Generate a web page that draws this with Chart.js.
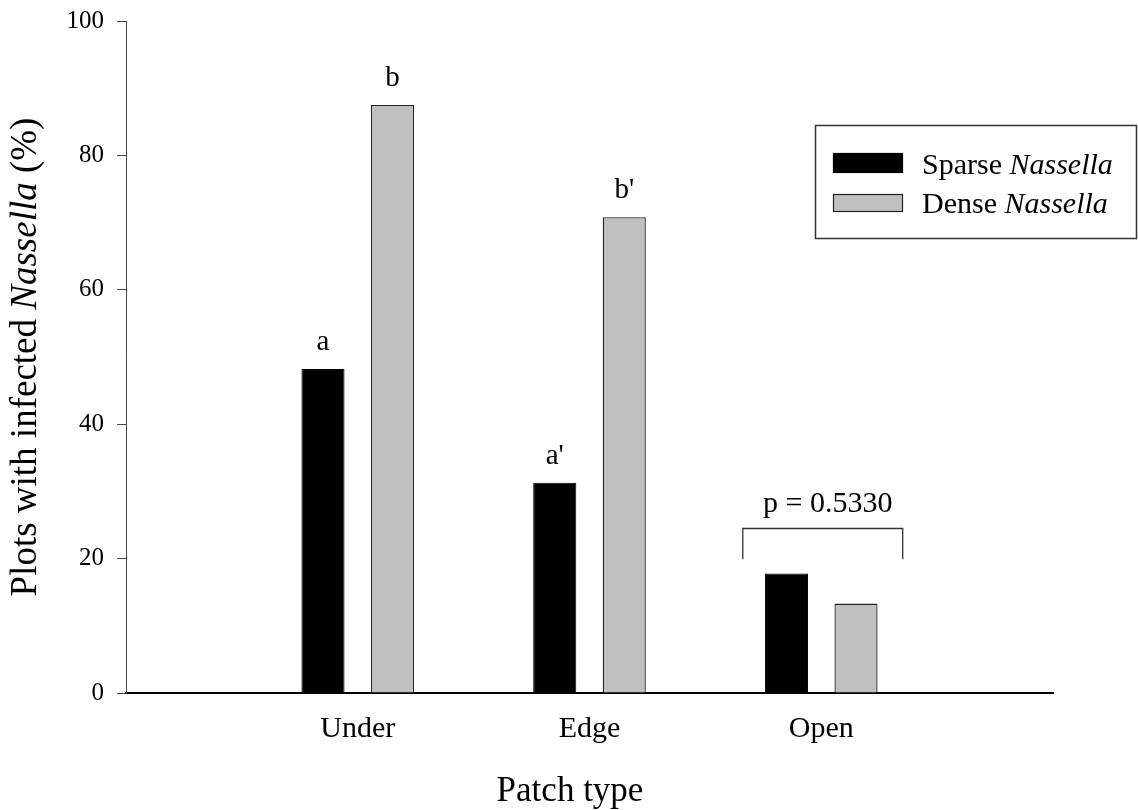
<!DOCTYPE html>
<html>
<head>
<meta charset="utf-8">
<script src="https://cdn.jsdelivr.net/npm/chart.js@4/dist/chart.umd.min.js"></script>
<style>
  html, body { margin: 0; padding: 0; background: #fff; }
  #c { display: block; }
</style>
</head>
<body>
<canvas id="c" width="1138" height="810"></canvas>
<script>
// Percentage of plots with infected Nassella, by patch type
const patchTypes = ['Under', 'Edge', 'Open'];
const sparseNassella = [48.2, 31.3, 17.8];
const denseNassella = [87.5, 70.8, 13.3];
const sparseLetters = ['a', "a'", ''];
const denseLetters = ['b', "b'", ''];
const yTicks = [0, 20, 40, 60, 80, 100];
const openPValue = 'p = 0.5330';

const SERIF = '"Liberation Serif", "Times New Roman", serif';

// Blank slots on either side give the empty margins left and right of the groups
const labels = ['', ...patchTypes, ''];
const pad = arr => [null, ...arr, null];

// Draws text runs (normal / italic) one after another from (x, y)
function drawRuns(ctx, runs, x, y, size, align) {
  const widths = runs.map(r => {
    ctx.font = (r.italic ? 'italic ' : '') + size + 'px ' + SERIF;
    return ctx.measureText(r.text).width;
  });
  const total = widths.reduce((a, b) => a + b, 0);
  let cx = align === 'center' ? x - total / 2 : x;
  runs.forEach((r, i) => {
    ctx.font = (r.italic ? 'italic ' : '') + size + 'px ' + SERIF;
    ctx.textAlign = 'left';
    ctx.fillText(r.text, cx, y);
    cx += widths[i];
  });
}

const decorations = {
  id: 'decorations',
  afterDatasetsDraw(chart) {
    const ctx = chart.ctx;
    const xs = chart.scales.x;
    const ys = chart.scales.y;
    ctx.save();
    ctx.fillStyle = '#000';
    ctx.textBaseline = 'alphabetic';
    ctx.textAlign = 'center';
    ctx.font = '29px ' + SERIF;

    // Significance letters above bars
    [sparseLetters, denseLetters].forEach((letters, di) => {
      const meta = chart.getDatasetMeta(di);
      letters.forEach((t, j) => {
        if (!t) return;
        const el = meta.data[j + 1];
        ctx.fillText(t, el.x, el.y - 19);
      });
    });

    // Bracket with p-value over the Open group
    const openIdx = labels.indexOf('Open');
    const step = xs.getPixelForValue(1) - xs.getPixelForValue(0);
    const cx = xs.getPixelForValue(openIdx) + 1.5;
    const half = 0.345 * step;
    const yTop = Math.round(ys.getPixelForValue(24.6)) + 0.5;
    const yLeg = ys.getPixelForValue(19.9);
    ctx.strokeStyle = '#333';
    ctx.lineWidth = 1.3;
    ctx.beginPath();
    ctx.moveTo(cx - half, yLeg);
    ctx.lineTo(cx - half, yTop);
    ctx.lineTo(cx + half, yTop);
    ctx.lineTo(cx + half, yLeg);
    ctx.stroke();
    ctx.font = '30px ' + SERIF;
    ctx.fillText(openPValue, cx + 5, yTop - 17);
    ctx.restore();
  },
  afterDraw(chart) {
    const ctx = chart.ctx;
    ctx.save();
    ctx.fillStyle = '#000';
    ctx.textBaseline = 'alphabetic';

    // X axis title
    drawRuns(ctx, [{ text: 'Patch type' }], 570, 801, 35, 'center');

    // Y axis title, rotated
    ctx.translate(36, 357);
    ctx.rotate(-Math.PI / 2);
    drawRuns(ctx, [
      { text: 'Plots with infected ' },
      { text: 'Nassella', italic: true },
      { text: ' (%)' }
    ], 0, 0, 37, 'center');
    ctx.setTransform(1, 0, 0, 1, 0, 0);

    // Legend box
    ctx.strokeStyle = '#333';
    ctx.lineWidth = 1.5;
    ctx.strokeRect(815.5, 125.5, 321, 113);
    const ds = chart.data.datasets;
    const rows = [
      { y: 153, h: 20, base: 174, ds: ds[0] },
      { y: 194, h: 18, base: 213, ds: ds[1] }
    ];
    rows.forEach(r => {
      ctx.fillStyle = r.ds.backgroundColor;
      ctx.fillRect(833, r.y, 70, r.h);
      ctx.strokeStyle = r.ds.borderColor;
      ctx.lineWidth = 1.2;
      ctx.strokeRect(833.5, r.y + 0.5, 69, r.h - 1);
      ctx.fillStyle = '#000';
      const [word, genus] = r.ds.label.split(' ');
      drawRuns(ctx, [
        { text: word + ' ' },
        { text: genus, italic: true }
      ], 922, r.base, 30, 'left');
    });
    ctx.restore();
  }
};

new Chart(document.getElementById('c'), {
  type: 'bar',
  data: {
    labels: labels,
    datasets: [
      {
        label: 'Sparse Nassella',
        data: pad(sparseNassella),
        backgroundColor: '#000000',
        borderColor: '#000000',
        borderWidth: 1
      },
      {
        label: 'Dense Nassella',
        data: pad(denseNassella),
        backgroundColor: '#c0c0c0',
        borderColor: '#222222',
        borderWidth: 1.3
      }
    ]
  },
  options: {
    responsive: false,
    devicePixelRatio: 1,
    animation: false,
    categoryPercentage: 0.6,
    barPercentage: 0.62,
    layout: { padding: { top: 21, right: 85, left: 0, bottom: 0 } },
    plugins: {
      legend: { display: false },
      tooltip: { enabled: false },
      title: { display: false }
    },
    scales: {
      x: {
        offset: false,
        grid: { display: false, drawTicks: false },
        border: { display: true, color: '#000', width: 2 },
        ticks: {
          color: '#000',
          font: { family: SERIF, size: 30 },
          padding: 18,
          maxRotation: 0,
          autoSkip: false
        },
        afterFit(scale) {
          scale.height = 117;
          scale.paddingLeft = 0;
          scale.paddingRight = 0;
        }
      },
      y: {
        min: 0,
        max: 100,
        afterBuildTicks(scale) { scale.ticks = yTicks.map(v => ({ value: v })); },
        grid: {
          drawOnChartArea: false,
          drawTicks: true,
          tickLength: 9,
          color: '#444',
          lineWidth: 1
        },
        border: { display: true, color: '#444', width: 1 },
        ticks: {
          color: '#000',
          font: { family: SERIF, size: 25 },
          padding: 13
        },
        afterFit(scale) {
          scale.width = 126;
          scale.paddingTop = 0;
          scale.paddingBottom = 0;
        }
      }
    }
  },
  plugins: [decorations]
});
</script>
</body>
</html>
